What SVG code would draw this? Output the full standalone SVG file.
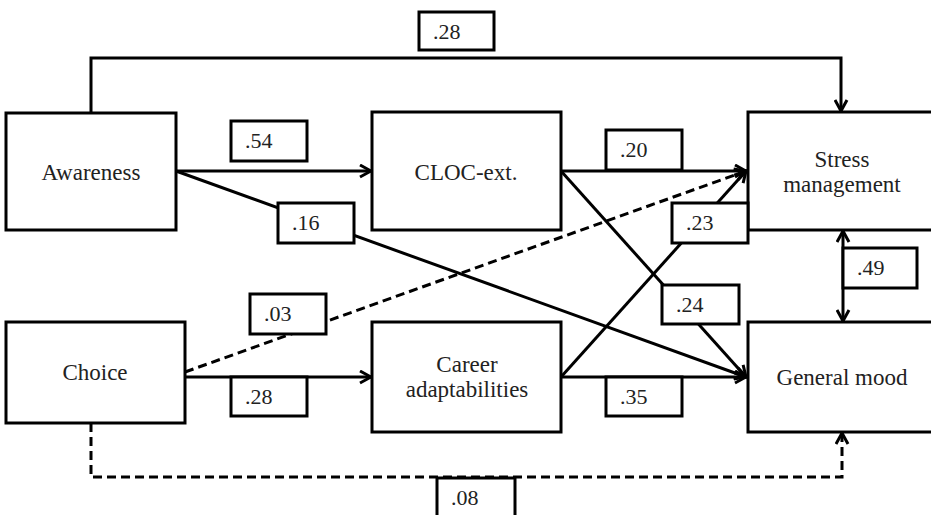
<svg xmlns="http://www.w3.org/2000/svg" width="931" height="515" viewBox="0 0 931 515">
<style>
.node{fill:#fff;stroke:#000;stroke-width:3}
.lbl{fill:#fff;stroke:#000;stroke-width:3}
text{font-family:'Liberation Serif','Tinos','DejaVu Serif','Times New Roman',serif;font-size:22px;fill:#222}
.t{text-anchor:middle;font-size:23px}
.c{fill:none;stroke:#000;stroke-width:3}
.d{stroke-dasharray:9 5}
</style>
<defs>
<marker id="ah" markerUnits="userSpaceOnUse" markerWidth="15" markerHeight="15" viewBox="0 0 15 15" refX="13" refY="7.5" orient="auto-start-reverse">
<path d="M2,1.5 L13,7.5 L2,13.5" fill="none" stroke="#000" stroke-width="3"/>
</marker>
</defs>
<rect width="931" height="515" fill="#fff"/>
<g id="connectors">
<path class="c" d="M91,113 V58 H841 V111" marker-end="url(#ah)"/>
<path class="c" d="M176,171 H371" marker-end="url(#ah)"/>
<path class="c" d="M176,171 L746,377" marker-end="url(#ah)"/>
<path class="c" d="M561,171 H746" marker-end="url(#ah)"/>
<path class="c" d="M561,171 L746,377" marker-end="url(#ah)"/>
<path class="c d" d="M185,372 L746,171" marker-end="url(#ah)"/>
<path class="c" d="M185,377 H371" marker-end="url(#ah)"/>
<path class="c" d="M561,377 L746,171" marker-end="url(#ah)"/>
<path class="c" d="M561,377 H746" marker-end="url(#ah)"/>
<path class="c" d="M843,231 V321" marker-start="url(#ah)" marker-end="url(#ah)"/>
<path class="c d" d="M91,423 V477 H842 V433" marker-end="url(#ah)"/>
</g>
<g id="awareness"><rect class="node" x="6" y="113" width="170" height="117"/><text class="t" x="91" y="180">Awareness</text></g>
<g id="cloc"><rect class="node" x="372" y="112" width="189" height="118"/><text class="t" x="466" y="180">CLOC-ext.</text></g>
<g id="stress"><rect class="node" x="748" y="112" width="190" height="118"/><text class="t" x="842" y="167">Stress</text><text class="t" x="842" y="192">management</text></g>
<g id="choice"><rect class="node" x="6" y="322" width="179" height="101"/><text class="t" x="95" y="380">Choice</text></g>
<g id="career"><rect class="node" x="372" y="322" width="189" height="110"/><text class="t" x="467" y="372">Career</text><text class="t" x="467" y="397">adaptabilities</text></g>
<g id="mood"><rect class="node" x="748" y="322" width="190" height="110"/><text class="t" x="842" y="385">General mood</text></g>
<g id="labels">
<g id="l-top28"><rect class="lbl" x="419" y="12" width="75" height="38"/><text x="433" y="39">.28</text></g>
<g id="l-54"><rect class="lbl" x="231" y="121" width="76" height="40"/><text x="245" y="148">.54</text></g>
<g id="l-16"><rect class="lbl" x="278" y="203" width="76" height="40"/><text x="292" y="230">.16</text></g>
<g id="l-20"><rect class="lbl" x="606" y="130" width="76" height="40"/><text x="620" y="157">.20</text></g>
<g id="l-23"><rect class="lbl" x="672" y="203" width="76" height="40"/><text x="686" y="230">.23</text></g>
<g id="l-03"><rect class="lbl" x="250" y="294" width="76" height="40"/><text x="264" y="321">.03</text></g>
<g id="l-28"><rect class="lbl" x="231" y="377" width="76" height="39"/><text x="245" y="404">.28</text></g>
<g id="l-35"><rect class="lbl" x="606" y="377" width="76" height="39"/><text x="620" y="404">.35</text></g>
<g id="l-24"><rect class="lbl" x="662" y="285" width="77" height="39"/><text x="676" y="312">.24</text></g>
<g id="l-49"><rect class="lbl" x="843" y="248" width="74" height="40"/><text x="857" y="275">.49</text></g>
<g id="l-08"><rect class="lbl" x="437" y="478" width="78" height="45"/><text x="451" y="505">.08</text></g>
</g>
</svg>
